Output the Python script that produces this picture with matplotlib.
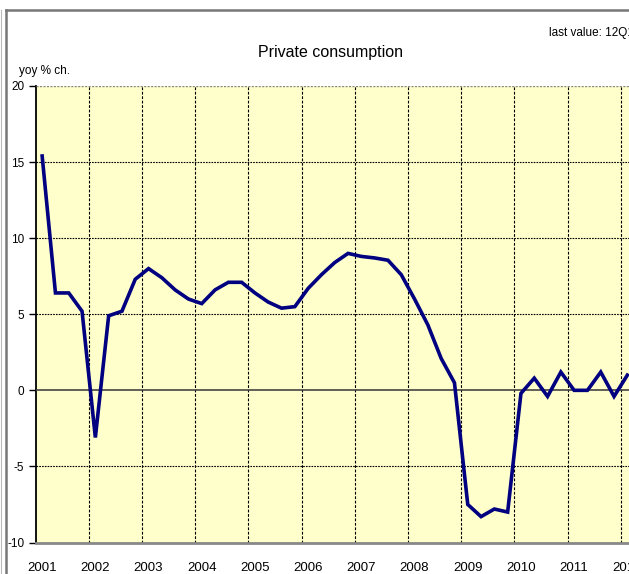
import matplotlib
matplotlib.use("Agg")
import matplotlib.pyplot as plt
from matplotlib.lines import Line2D

FONT = ['Liberation Sans Narrow', 'Liberation Sans', 'DejaVu Sans']
plt.rcParams['font.family'] = FONT

years = ['2001', '2002', '2003', '2004', '2005', '2006', '2007', '2008',
         '2009', '2010', '2011', '2012']
values = [15.4, 6.4, 6.4, 5.2, -3.1, 4.9, 5.2, 7.3, 8.0, 7.4, 6.6, 6.0,
          5.7, 6.6, 7.1, 7.1, 6.4, 5.8, 5.4, 5.5, 6.7, 7.6, 8.4, 9.0,
          8.8, 8.7, 8.55, 7.6, 6.0, 4.3, 2.1, 0.5, -7.5, -8.3, -7.8, -8.0,
          -0.2, 0.8, -0.4, 1.2, 0.0, 0.0, 1.2, -0.4, 1.0]
yticks = [-10, -5, 0, 5, 10, 15, 20]

W, H = 629, 574
fig = plt.figure(figsize=(W / 100, H / 100), dpi=100)
fig.patch.set_facecolor('white')

n_cat = 48
s = 13.3
left_px, top_px, bot_px = 35.5, 86, 542.5
ax = fig.add_axes([left_px / W, (H - bot_px) / H, n_cat * s / W, (bot_px - top_px) / H])
ax.set_facecolor('#FFFFCC')

x = list(range(len(values)))
ax.plot(x, values, color='#000080', lw=2.6, solid_joinstyle='miter', zorder=5, clip_on=True)

ax.set_xlim(-0.5, n_cat - 0.5)
ax.set_ylim(-10, 20)

# vertical grid at year boundaries
for b in range(1, n_cat // 4):
    ax.axvline(4 * b - 0.5, color='black', lw=0.8, ls=(0, (2.5, 1.5)), zorder=2)
# horizontal grid
for yv in [-5, 5, 10, 15]:
    ax.axhline(yv, color='black', lw=0.8, ls=(0, (1.5, 1)), zorder=2)
ax.axhline(0, color='#444444', lw=1.2, zorder=3)
ax.axhline(20, color='#888888', lw=1.0, ls=(0, (1.5, 1)), zorder=3)

ax.set_yticks(yticks)
ax.set_yticklabels([str(v) for v in yticks])
ax.set_xticks([4 * i for i in range(len(years))])
ax.set_xticklabels(years)
ax.tick_params(axis='y', direction='out', length=5, width=1, pad=3, labelsize=8.5, colors='black')
ax.tick_params(axis='x', length=0, pad=14, labelsize=9.5)

for sp in ['top', 'right']:
    ax.spines[sp].set_visible(False)
ax.spines['left'].set_color('black')
ax.spines['left'].set_linewidth(1.3)
ax.spines['bottom'].set_color('#888888')
ax.spines['bottom'].set_linewidth(2.0)

# chart frame
fig.add_artist(Line2D([6.5 / W, 6.5 / W], [0, 1 - 9.5 / H], color='#777777', lw=1.8))
fig.add_artist(Line2D([6.5 / W, 1.0], [1 - 9.5 / H, 1 - 9.5 / H], color='#777777', lw=1.8))
fig.add_artist(Line2D([1 / W, 1 / W], [0, 1 - 9.5 / H], color='#BBBBBB', lw=0.8))

fig.text(330 / W, 1 - 53 / H, 'Private consumption', ha='center', va='center', fontsize=11.5)
fig.text(549 / W, 1 - 33 / H, 'last value: 12Q1', ha='left', va='center', fontsize=8.5)
fig.text(19 / W, 1 - 71 / H, 'yoy % ch.', ha='left', va='center', fontsize=8.5)

fig.savefig('out.png', dpi=100)
